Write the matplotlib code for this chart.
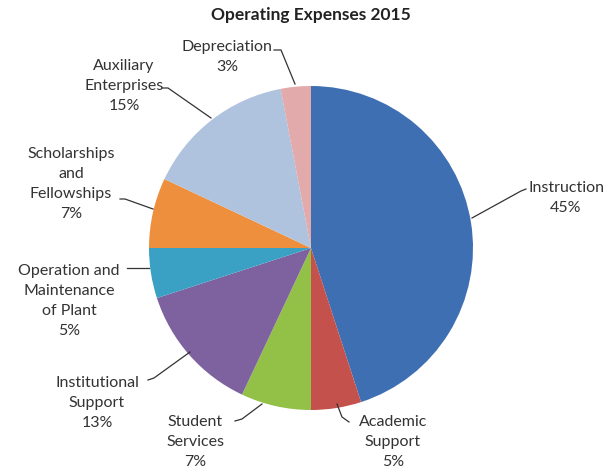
import matplotlib
matplotlib.use("Agg")
import matplotlib.pyplot as plt

categories = ["Instruction", "Academic\nSupport", "Student\nServices", "Institutional\nSupport",
              "Operation and\nMaintenance\nof Plant", "Scholarships\nand\nFellowships",
              "Auxiliary\nEnterprises", "Depreciation"]
values = [45, 5, 7, 13, 5, 7, 15, 3]
colors = ["#3F6FB3", "#C4514C", "#93C047", "#7E62A0", "#3AA1C4", "#EE8F3E", "#AFC3DF", "#E2AAAA"]

W, H = 616, 475
fig = plt.figure(figsize=(W / 100, H / 100), dpi=100)
ax = fig.add_axes([0, 0, 1, 1])

cx, cy, r = 311, H - 248, 162
ax.pie(values, colors=colors, startangle=90, counterclock=False, center=(cx, cy), radius=r,
       wedgeprops=dict(linewidth=0), frame=True)
ax.set_xlim(0, W)
ax.set_ylim(0, H)
ax.set_aspect("equal")
ax.axis("off")

font = "Lato"
fig.text(311 / W, 1 - 15 / H, "Operating Expenses 2015", ha="center", va="center",
         fontsize=12.5, fontweight="bold", family=font, color="#222222")

# label text center (pixel coords, y from top) and leader line points
label_pos = [(566, 198), (393, 442), (195, 442), (97, 403), (69, 301), (71, 184), (124, 86), (227, 57)]
leaders = [
    [(526, 189), (521, 191), (472, 218)],
    [(349, 422), (342, 417), (337, 404)],
    [(235, 421), (242, 419), (262, 404)],
    [(148, 380), (154, 378), (190, 352)],
    [(127, 268), (149, 268)],
    [(120, 199), (125, 199), (153, 209)],
    [(162, 88), (168, 88), (211, 118)],
    [(274, 50), (281, 50), (295, 84)],
]

for cat, v, (lx, ly), pts in zip(categories, values, label_pos, leaders):
    ax.text(lx, H - ly, f"{cat}\n{v}%", ha="center", va="center", fontsize=11.5,
            family=font, color="#333333", linespacing=1.53)
    xs = [p[0] for p in pts]
    ys = [H - p[1] for p in pts]
    ax.plot(xs, ys, color="#333333", lw=0.9)

fig.savefig("out.png", dpi=100, facecolor="white")
